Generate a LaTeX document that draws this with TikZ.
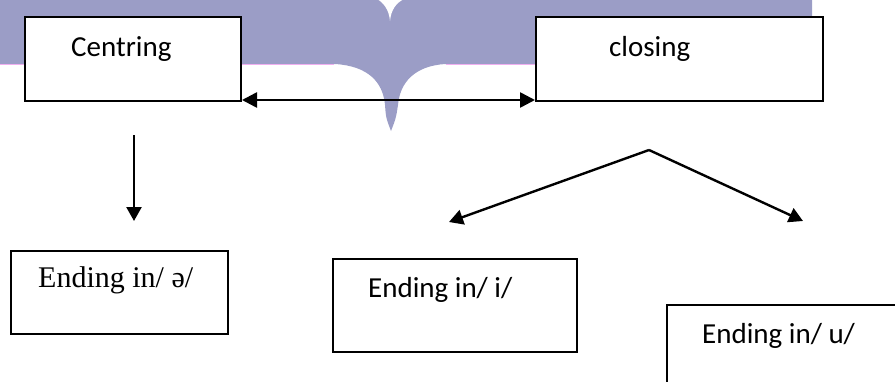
\documentclass[tikz,border=0pt]{standalone}
\usepackage{fontspec}
\setmainfont{Carlito}
\newfontfamily\timesf{Liberation Serif}
\usetikzlibrary{arrows.meta}
\definecolor{band}{RGB}{155,157,198}
\definecolor{bandedge}{RGB}{240,175,240}
\begin{document}
\begin{tikzpicture}[x=1pt,y=-1pt,
  box/.style={draw=black, line width=2pt, fill=white, rectangle, inner sep=0pt, anchor=north west},
  lbl/.style={inner sep=0pt, anchor=base west, font=\fontsize{29}{34}\selectfont},
  arr/.style={line width=2.4pt, -{Triangle[length=14pt,width=15pt]}},
  darr/.style={line width=2.6pt, {Triangle[length=15pt,width=15pt]}-{Triangle[length=15pt,width=15pt]}}]
\useasboundingbox (0,0) rectangle (895,381);
\clip (0,0) rectangle (895,381);
% background band with spike
\fill[band] (0,0) -- (812,0) -- (812,64) -- (445,64)
  .. controls (415,66) and (400,82) .. (398,105)
  .. controls (396,118) .. (391,131)
  .. controls (386,118) .. (385,105)
  .. controls (383,82) and (368,66) .. (335,64)
  -- (0,64) -- cycle;
\fill[white] (377,-1) .. controls (384,3) and (389,10) .. (390,21)
  .. controls (391,10) and (396,3) .. (404,-1) -- cycle;
\draw[bandedge, line width=1pt] (0,64.5) -- (334,64.5);
\draw[bandedge, line width=1pt] (446,64.5) -- (812,64.5);
% boxes
\node[box, minimum width=216pt, minimum height=84pt] (cen) at (24,16) {};
\node[box, minimum width=287pt, minimum height=84pt] (clo) at (535,16) {};
\node[box, minimum width=217pt, minimum height=83pt] (bsw) at (10,250) {};
\node[box, minimum width=244pt, minimum height=93pt] (bi) at (332,258) {};
\node[box, minimum width=244pt, minimum height=93pt] (bu) at (666,304) {};
% labels
\node[lbl] (tcen) at (71,56) {Centring};
\node[lbl] (tclo) at (609,56) {closing};
\node[lbl, font=\timesf\fontsize{30}{34}\selectfont] (tsw) at (38,287) {Ending in/ ə/};
\node[lbl] (ti) at (368,297) {Ending in/ i/};
\node[lbl] (tu) at (702,343) {Ending in/ u/};
% connectors
\draw[darr] ([yshift=2pt]cen.south east) -- ([yshift=2pt]clo.south west);
\coordinate (ds) at (134,135);
\coordinate (de) at (134,221);
\draw[arr] (ds) -- (de);
\coordinate (apex) at (649,150);
\coordinate (ai) at (449,222);
\coordinate (au) at (803,221);
\draw[arr] (apex) -- (ai);
\draw[arr] (apex) -- (au);
\end{tikzpicture}
\end{document}
